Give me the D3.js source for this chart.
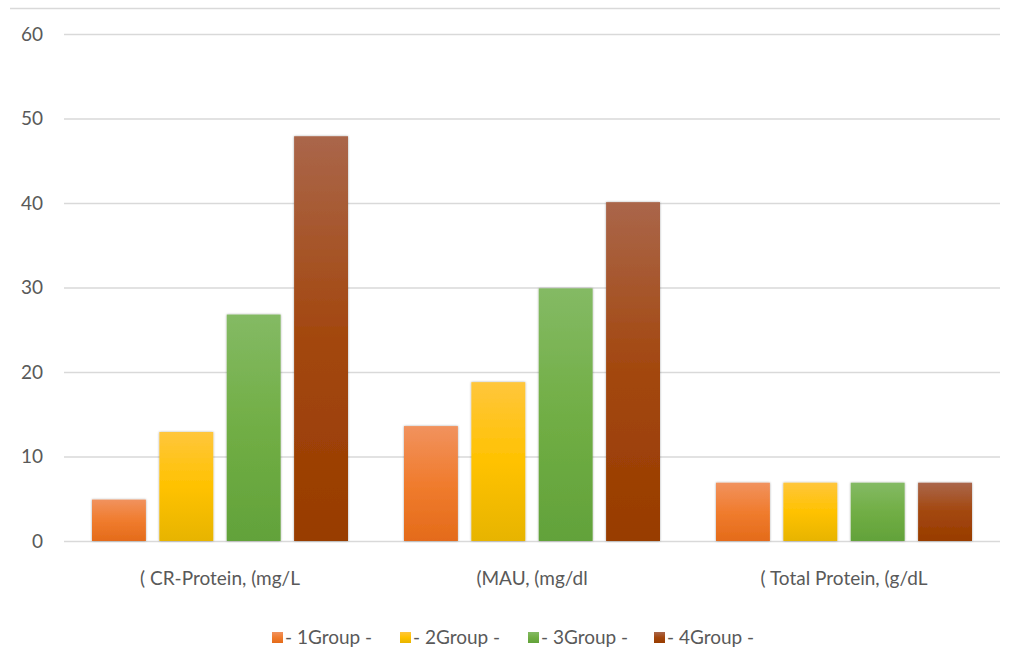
<!DOCTYPE html>
<html><head><meta charset="utf-8">
<script src="https://cdn.jsdelivr.net/npm/d3@7"></script>
<style>body{margin:0;background:#fff}svg{display:block}</style>
</head><body>
<script>
const categories = ["( CR-Protein, (mg/L", "(MAU, (mg/dl", "( Total Protein, (g/dL"];
const seriesNames = ["- 1Group -", "- 2Group -", "- 3Group -", "- 4Group -"];
const group1 = [4.9, 13.6, 6.9];
const group2 = [12.9, 18.8, 6.9];
const group3 = [26.8, 29.9, 6.9];
const group4 = [47.9, 40.1, 6.9];
const yTicks = [0, 10, 20, 30, 40, 50, 60];
const seriesValues = [group1, group2, group3, group4];
const colorStops = [
  ["#F1925E", "#F07C2E", "#E46B1A"],
  ["#FFC63C", "#FFC200", "#E7B400"],
  ["#84BA64", "#71AE45", "#62A23A"],
  ["#AA664A", "#A3470E", "#983C00"]
];

(function(){
const W = 1012, H = 649;
const FONT = "Lato, sans-serif";
const svg = d3.select("body").append("svg").attr("width", W).attr("height", H);
const defs = svg.append("defs");
colorStops.forEach((c, i) => {
  const g = defs.append("linearGradient").attr("id", "g" + i).attr("x1", 0).attr("y1", 0).attr("x2", 0).attr("y2", 1);
  g.append("stop").attr("offset", "0%").attr("stop-color", c[0]);
  g.append("stop").attr("offset", "50%").attr("stop-color", c[1]);
  g.append("stop").attr("offset", "100%").attr("stop-color", c[2]);
});
const f = defs.append("filter").attr("id", "sh").attr("x", "-20%").attr("y", "-5%").attr("width", "140%").attr("height", "110%");
f.append("feDropShadow").attr("dx", 0).attr("dy", 0).attr("stdDeviation", 1.2).attr("flood-color", "#000").attr("flood-opacity", 0.35);

const mLeft = 64, mRight = 1000, mTop = 34, mBottom = 541;
const y = d3.scaleLinear().domain([0, 60]).range([mBottom, mTop]);
const x0 = d3.scaleBand().domain(categories).range([mLeft, mRight]).paddingInner(0).paddingOuter(0);
const x1 = d3.scaleBand().domain(d3.range(4)).range([28, x0.bandwidth() - 28]).paddingInner(0.2).paddingOuter(0);

svg.append("line").attr("x1", 10).attr("x2", 1000).attr("y1", 8.5).attr("y2", 8.5).attr("stroke", "#D9D9D9").attr("stroke-width", 1.5);

const yAxis = d3.axisLeft(y).tickValues(yTicks).tickSize(-(mRight - mLeft)).tickPadding(21);
const ga = svg.append("g").attr("transform", `translate(${mLeft},0)`).call(yAxis);
ga.select(".domain").remove();
ga.selectAll(".tick line").attr("stroke", "#D9D9D9").attr("stroke-width", 1.3);
ga.selectAll(".tick text").attr("fill", "#595959").attr("font-family", FONT).attr("font-size", 19);

const gs = svg.append("g");
seriesValues.forEach((vals, si) => {
  gs.selectAll(null).data(vals).enter().append("rect")
    .attr("x", (d, ci) => x0(categories[ci]) + x1(si))
    .attr("width", x1.bandwidth())
    .attr("y", d => y(d))
    .attr("height", d => y(0) - y(d))
    .attr("fill", `url(#g${si})`)
    .attr("filter", "url(#sh)");
});

const xAxis = d3.axisBottom(x0).tickSize(0).tickPadding(31);
const gx = svg.append("g").attr("transform", `translate(0,${mBottom})`).call(xAxis);
gx.select(".domain").remove();
gx.selectAll(".tick text").attr("fill", "#595959").attr("font-family", FONT).attr("font-size", 19);

const legX = [272, 400, 528, 654];
const lg = svg.append("g");
seriesNames.forEach((n, i) => {
  lg.append("rect").attr("x", legX[i]).attr("y", 632).attr("width", 11).attr("height", 11).attr("fill", `url(#g${i})`);
  lg.append("text").attr("x", legX[i] + 13).attr("y", 644).text(n)
    .attr("fill", "#595959").attr("font-family", FONT).attr("font-size", 19);
});
})();
</script>
</body></html>
